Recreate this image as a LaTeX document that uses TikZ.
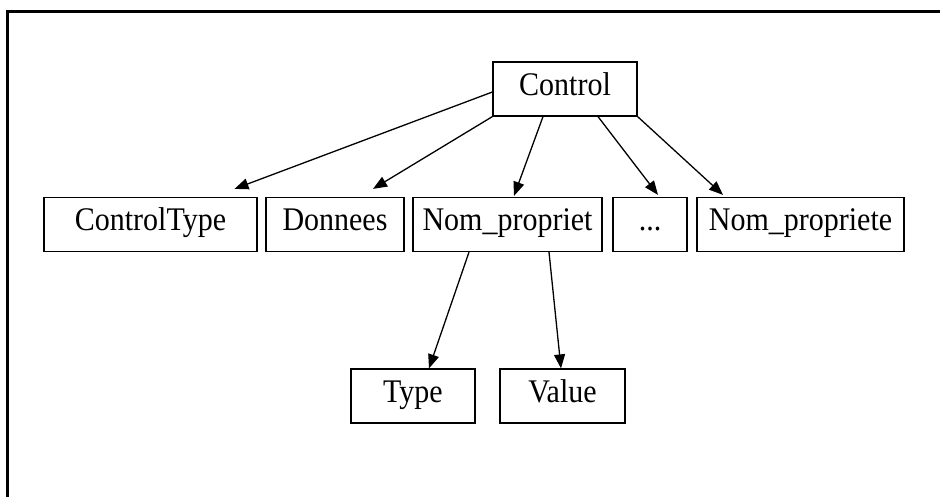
\documentclass[tikz,border=0pt]{standalone}
\usepackage{fontspec}
\usepackage{graphicx}
\setmainfont{Liberation Serif}
\usetikzlibrary{arrows.meta}

% labels are set a little taller than the plain face
\newcommand{\tall}[1]{\scalebox{1}[1.1]{#1}}

\tikzset{
  box/.style={draw=black, line width=1.2pt, rectangle, inner sep=0pt,
    minimum height=54pt, text height=21pt, text depth=8pt,
    font=\fontsize{30}{36}\selectfont},
  edge/.style={draw=black, line width=1.3pt,
    -{Triangle[length=14pt,width=11pt]}},
  frame/.style={draw=black, line width=3pt}
}

\begin{document}
\begin{tikzpicture}[x=1pt, y=-1pt]
  \useasboundingbox (0,0) rectangle (940,497);

  % outer frame (only the top and left edges are visible)
  \coordinate (fbl) at (7.5,497);
  \coordinate (ftl) at (7.5,11.5);
  \coordinate (ftr) at (940,11.5);
  \draw[frame] (fbl) -- (ftl) -- (ftr);

  % root
  \node[box, minimum width=144pt] (ctrl) at (565,89) {\tall{Control}};

  % second level
  \node[box, minimum width=213pt] (ctype) at (150.5,224.5) {\tall{ControlType}};
  \node[box, minimum width=138pt] (donnees) at (335,224.5) {\tall{Donnees}};
  \node[box, minimum width=189pt] (npa) at (507.5,224.5) {\tall{Nom\_propriet}};
  \node[box, minimum width=74pt] (dots) at (650,224.5) {\tall{...}};
  \node[box, minimum width=207pt] (npb) at (800.5,224.5) {\tall{Nom\_propriete}};

  % third level
  \node[box, minimum width=124pt] (type) at (413,396) {\tall{Type}};
  \node[box, minimum width=125pt] (value) at (562.5,396) {\tall{Value}};

  % connectors
  \draw[edge] ([yshift=-3pt]ctrl.west) -- ([xshift=84pt,yshift=8pt]ctype.north);
  \draw[edge] (ctrl.south west) -- ([xshift=38pt,yshift=8pt]donnees.north);
  \draw[edge] ([xshift=-22pt]ctrl.south) -- ([xshift=6.5pt,yshift=1pt]npa.north);
  \draw[edge] ([xshift=33pt]ctrl.south) -- ([xshift=8pt,yshift=2pt]dots.north);
  \draw[edge] (ctrl.south east) -- ([xshift=-77.5pt,yshift=2pt]npb.north);

  \draw[edge] ([xshift=-38.5pt]npa.south) -- ([xshift=16pt]type.north);
  \draw[edge] ([xshift=41.5pt]npa.south) -- ([xshift=-1.5pt]value.north);
\end{tikzpicture}
\end{document}
